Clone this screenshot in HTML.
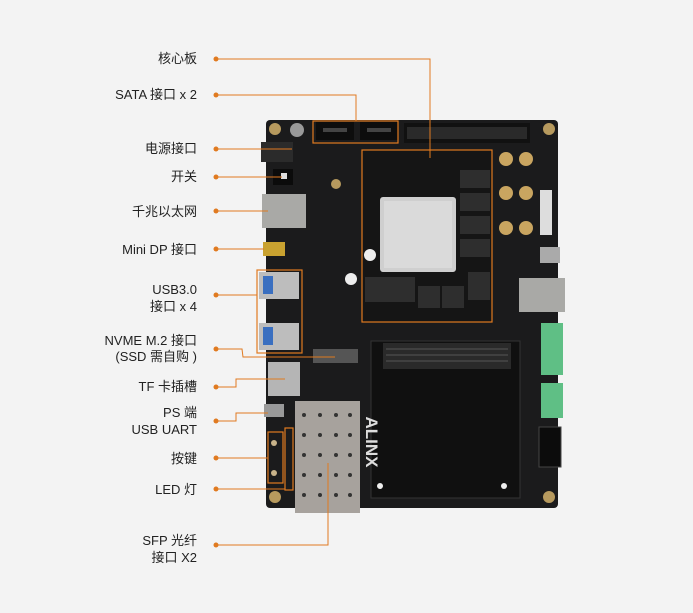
<!DOCTYPE html>
<html><head><meta charset="utf-8"><style>
body{margin:0;background:#f3f3f3;}
svg{display:block}
text{font-family:"Liberation Sans","Noto Sans CJK SC",sans-serif;font-size:13px;fill:#222;text-anchor:end}
</style></head><body>
<svg width="693" height="613" viewBox="0 0 693 613">
<rect width="693" height="613" fill="#f3f3f3"/>
<!-- board -->
<rect x="266" y="120" width="292" height="388" rx="4" fill="#1b1b1c"/>
<!-- top header -->
<rect x="404" y="123" width="126" height="20" fill="#111"/>
<rect x="407" y="127" width="120" height="12" fill="#2a2a2a"/>
<!-- holes -->
<g fill="#b79a5e"><circle cx="275" cy="129" r="6"/><circle cx="549" cy="129" r="6"/><circle cx="275" cy="497" r="6"/><circle cx="549" cy="497" r="6"/>
<circle cx="373" cy="159" r="6"/><circle cx="482" cy="159" r="6"/><circle cx="373" cy="312" r="6"/><circle cx="482" cy="312" r="6"/>
<circle cx="336" cy="184" r="5"/></g>
<g fill="#1b1b1c"><circle cx="373" cy="159" r="3"/><circle cx="482" cy="159" r="3"/><circle cx="373" cy="312" r="3"/><circle cx="482" cy="312" r="3"/></g>
<circle cx="297" cy="130" r="7" fill="#999"/>
<!-- SATA -->
<rect x="316" y="122" width="38" height="18" fill="#0d0d0d"/><rect x="360" y="122" width="38" height="18" fill="#0d0d0d"/>
<rect x="323" y="128" width="24" height="4" fill="#444"/><rect x="367" y="128" width="24" height="4" fill="#444"/>
<!-- power / switch -->
<rect x="261" y="142" width="32" height="20" fill="#2b2b2b"/>
<rect x="273" y="169" width="20" height="16" fill="#0b0b0b"/><rect x="281" y="173" width="6" height="6" fill="#ddd"/>
<!-- ethernet -->
<rect x="262" y="194" width="44" height="34" fill="#a9a9a6"/>
<rect x="519" y="278" width="46" height="34" fill="#a9a9a6"/>
<!-- mini dp -->
<rect x="263" y="242" width="22" height="14" fill="#c9a230"/>
<!-- usb -->
<rect x="259" y="272" width="40" height="27" fill="#bdbdbd"/><rect x="259" y="323" width="40" height="27" fill="#bdbdbd"/>
<rect x="263" y="276" width="10" height="18" fill="#3a6fc0"/><rect x="263" y="327" width="10" height="18" fill="#3a6fc0"/>
<!-- m2 -->
<rect x="313" y="349" width="45" height="14" fill="#555"/>
<!-- tf -->
<rect x="268" y="362" width="32" height="34" fill="#b5b5b5"/>
<rect x="264" y="404" width="20" height="13" fill="#999"/>
<!-- core board -->
<rect x="362" y="150" width="130" height="172" fill="#151515"/>
<rect x="380" y="197" width="76" height="75" rx="3" fill="#cfcfcf"/>
<rect x="384" y="201" width="68" height="67" fill="#dadada"/>
<g fill="#2e2e2e"><rect x="460" y="170" width="30" height="18"/><rect x="460" y="193" width="30" height="18"/><rect x="460" y="216" width="30" height="18"/><rect x="460" y="239" width="30" height="18"/>
<rect x="365" y="277" width="50" height="25"/><rect x="418" y="286" width="22" height="22"/><rect x="442" y="286" width="22" height="22"/><rect x="468" y="272" width="22" height="28"/></g>
<circle cx="370" cy="255" r="6" fill="#eee"/><circle cx="351" cy="279" r="6" fill="#eee"/>
<!-- SMA -->
<g fill="#c9a560"><circle cx="506" cy="159" r="7"/><circle cx="526" cy="159" r="7"/><circle cx="506" cy="193" r="7"/><circle cx="526" cy="193" r="7"/><circle cx="506" cy="228" r="7"/><circle cx="526" cy="228" r="7"/></g>
<rect x="540" y="190" width="12" height="45" fill="#ddd"/>
<rect x="540" y="247" width="20" height="16" fill="#aaa"/>
<!-- FMC area -->
<rect x="371" y="341" width="149" height="157" fill="#101010" stroke="#333"/>
<rect x="383" y="343" width="128" height="26" fill="#2a2a2a"/>
<g stroke="#555"><line x1="386" y1="349" x2="508" y2="349"/><line x1="386" y1="355" x2="508" y2="355"/><line x1="386" y1="361" x2="508" y2="361"/></g>
<circle cx="380" cy="486" r="3" fill="#eee"/><circle cx="504" cy="486" r="3" fill="#eee"/>
<text x="0" y="0" transform="translate(366,442) rotate(90)" style="font-size:17px;font-weight:bold;fill:#ddd;text-anchor:middle">ALINX</text>
<!-- green terminals -->
<rect x="541" y="323" width="22" height="52" fill="#5fbf85"/><rect x="541" y="383" width="22" height="35" fill="#5fbf85"/>
<rect x="539" y="427" width="22" height="40" fill="#0c0c0c" stroke="#444"/>
<!-- SFP -->
<rect x="295" y="401" width="65" height="112" fill="#a7a29d"/>
<g fill="#333"><circle cx="304" cy="415" r="2"/><circle cx="320" cy="415" r="2"/><circle cx="336" cy="415" r="2"/><circle cx="350" cy="415" r="2"/>
<circle cx="304" cy="435" r="2"/><circle cx="320" cy="435" r="2"/><circle cx="336" cy="435" r="2"/><circle cx="350" cy="435" r="2"/>
<circle cx="304" cy="455" r="2"/><circle cx="320" cy="455" r="2"/><circle cx="336" cy="455" r="2"/><circle cx="350" cy="455" r="2"/>
<circle cx="304" cy="475" r="2"/><circle cx="320" cy="475" r="2"/><circle cx="336" cy="475" r="2"/><circle cx="350" cy="475" r="2"/>
<circle cx="304" cy="495" r="2"/><circle cx="320" cy="495" r="2"/><circle cx="336" cy="495" r="2"/><circle cx="350" cy="495" r="2"/></g>
<!-- buttons -->
<circle cx="274" cy="443" r="3" fill="#c9b38a"/><circle cx="274" cy="473" r="3" fill="#c9b38a"/>
<!-- orange boxes -->
<g fill="none" stroke="#e07a20" stroke-width="1.2">
<rect x="313" y="121" width="85" height="22"/>
<rect x="362" y="150" width="130" height="172"/>
<rect x="257" y="270" width="45" height="83"/>
<rect x="268" y="432" width="15" height="51"/>
<rect x="285" y="428" width="8" height="62"/>
</g>
<!-- leader lines -->
<g fill="none" stroke="#e07a20" stroke-width="1">
<polyline points="216,59 430,59 430,158"/>
<polyline points="216,95 356,95 356,121"/>
<line x1="216" y1="149" x2="292" y2="149"/>
<line x1="216" y1="177" x2="282" y2="177"/>
<line x1="216" y1="211" x2="268" y2="211"/>
<line x1="216" y1="249" x2="264" y2="249"/>
<line x1="216" y1="295" x2="257" y2="295"/>
<polyline points="216,349 242,349 243,357 335,357"/>
<polyline points="216,387 236,387 236,379 285,379"/>
<polyline points="216,421 236,421 236,413 268,413"/>
<line x1="216" y1="458" x2="268" y2="458"/>
<line x1="216" y1="489" x2="285" y2="489"/>
<polyline points="216,545 328,545 328,463"/>
</g>
<g fill="#e07a20"><circle cx="216" cy="59" r="2.5"/><circle cx="216" cy="95" r="2.5"/><circle cx="216" cy="149" r="2.5"/><circle cx="216" cy="177" r="2.5"/><circle cx="216" cy="211" r="2.5"/><circle cx="216" cy="249" r="2.5"/><circle cx="216" cy="295" r="2.5"/><circle cx="216" cy="349" r="2.5"/><circle cx="216" cy="387" r="2.5"/><circle cx="216" cy="421" r="2.5"/><circle cx="216" cy="458" r="2.5"/><circle cx="216" cy="489" r="2.5"/><circle cx="216" cy="545" r="2.5"/></g>
<!-- labels -->
<text x="197" y="63">核心板</text>
<text x="197" y="99">SATA 接口 x 2</text>
<text x="197" y="153">电源接口</text>
<text x="197" y="181">开关</text>
<text x="197" y="216">千兆以太网</text>
<text x="197" y="254">Mini DP 接口</text>
<text x="197" y="294">USB3.0</text>
<text x="197" y="311">接口 x 4</text>
<text x="197" y="345">NVME M.2 接口</text>
<text x="197" y="361">(SSD 需自购 )</text>
<text x="197" y="391">TF 卡插槽</text>
<text x="197" y="417">PS 端</text>
<text x="197" y="434">USB UART</text>
<text x="197" y="463">按键</text>
<text x="197" y="494">LED 灯</text>
<text x="197" y="545">SFP 光纤</text>
<text x="197" y="562">接口 X2</text>
</svg>
</body></html>
